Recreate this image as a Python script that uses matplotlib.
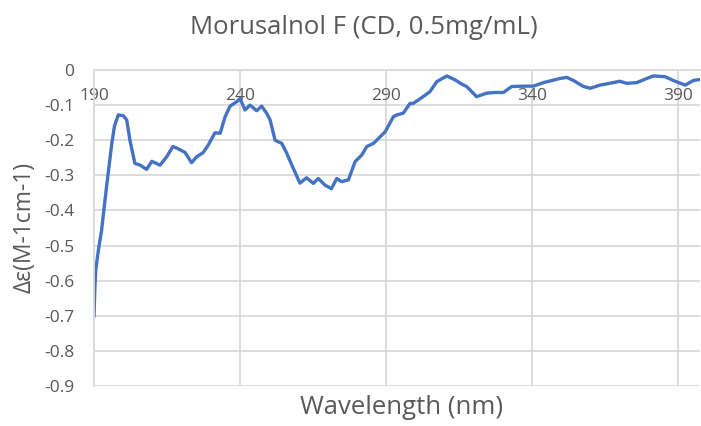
import matplotlib
matplotlib.use("Agg")
import matplotlib.pyplot as plt

wavelength = [190, 190.3, 190.6, 191.5, 192.6, 194.3, 196.1, 197, 198.3, 200, 201.2,
              202.3, 204, 205.8, 208, 209.8, 212.6, 214.9, 217, 218.5, 221.2,
              223.4, 225.2, 227.4, 229.1, 231.4, 233.2, 234.9, 236.6, 238.9, 240,
              241.7, 243.4, 245.7, 247.4, 249.1, 250.3, 252, 254.3, 256, 257.7,
              260.5, 262.8, 265.1, 266.8, 269.1, 271.3, 273.1, 274.8, 277.1, 279.4,
              281.7, 283.4, 285.7, 287.4, 289.7, 292.5, 293.7, 295.9, 298.2, 299.3,
              302, 305, 307.4, 310.8, 313.6, 315.9, 317.6, 321, 324.4, 327.3,
              330.2, 333, 337, 340.4, 343.9, 349.6, 351.9, 354.2, 357.6, 359.9,
              363.3, 367.8, 370, 372.4, 375.8, 379.3, 381.5, 385.5, 388.4, 392.4,
              395.2, 397.5]
delta_eps = [-0.70, -0.62, -0.57, -0.513, -0.456, -0.332, -0.209, -0.16, -0.128, -0.13, -0.142,
             -0.20, -0.266, -0.271, -0.283, -0.26, -0.271, -0.247, -0.218, -0.223, -0.235,
             -0.264, -0.247, -0.235, -0.214, -0.179, -0.18, -0.133, -0.103, -0.09, -0.081,
             -0.114, -0.10, -0.116, -0.103, -0.123, -0.142, -0.20, -0.209, -0.237, -0.27,
             -0.322, -0.307, -0.323, -0.309, -0.328, -0.338, -0.309, -0.318, -0.313, -0.261,
             -0.242, -0.218, -0.209, -0.195, -0.176, -0.133, -0.128, -0.123, -0.095, -0.095,
             -0.08, -0.062, -0.033, -0.017, -0.028, -0.04, -0.047, -0.076, -0.066, -0.064,
             -0.064, -0.047, -0.046, -0.046, -0.036, -0.024, -0.021, -0.03, -0.047, -0.052,
             -0.043, -0.036, -0.032, -0.038, -0.036, -0.024, -0.017, -0.019, -0.03, -0.043,
             -0.03, -0.027]

x_ticks = [190, 240, 290, 340, 390]
y_ticks = [0, -0.1, -0.2, -0.3, -0.4, -0.5, -0.6, -0.7, -0.8, -0.9]

plt.rcParams['font.family'] = ['Open Sans', 'DejaVu Sans']
gray = '#595959'
grid = '#d9d9d9'

fig = plt.figure(figsize=(7.01, 4.26), dpi=100)
ax = fig.add_axes([94 / 701, 40 / 426, 606 / 701, 316 / 426])

ax.plot(wavelength, delta_eps, color='#4472C4', linewidth=2.4, solid_joinstyle='round')

ax.set_xlim(190, 397.5)
ax.set_ylim(-0.9, 0)
ax.set_xticks(x_ticks)
ax.set_yticks(y_ticks)
ax.set_yticklabels([('%g' % v) for v in y_ticks])

ax.grid(True, color=grid, linewidth=1.3)
ax.set_axisbelow(True)
for side in ['top', 'right']:
    ax.spines[side].set_visible(False)
ax.spines['left'].set_color(grid)
ax.spines['left'].set_linewidth(1.3)
# horizontal axis crosses at zero, labels sit just under it
ax.spines['bottom'].set_position(('data', 0))
ax.spines['bottom'].set_color(grid)
ax.spines['bottom'].set_linewidth(1.3)
ax.tick_params(length=0, labelsize=12.5, colors=gray)
ax.tick_params(axis='y', pad=14)
ax.tick_params(axis='x', pad=13)

fig.text(364 / 701, 1 - 28 / 426, 'Morusalnol F (CD, 0.5mg/mL)', fontsize=18.5,
         color=gray, ha='center', va='center')
fig.text(402 / 701, 1 - 407 / 426, 'Wavelength (nm)', fontsize=18.5, color=gray,
         ha='center', va='center')
fig.text(25 / 701, 1 - 227 / 426, 'Δε(M-1cm-1)', fontsize=16.5, color=gray,
         ha='center', va='center', rotation=90)

fig.savefig('out.png', dpi=100)
